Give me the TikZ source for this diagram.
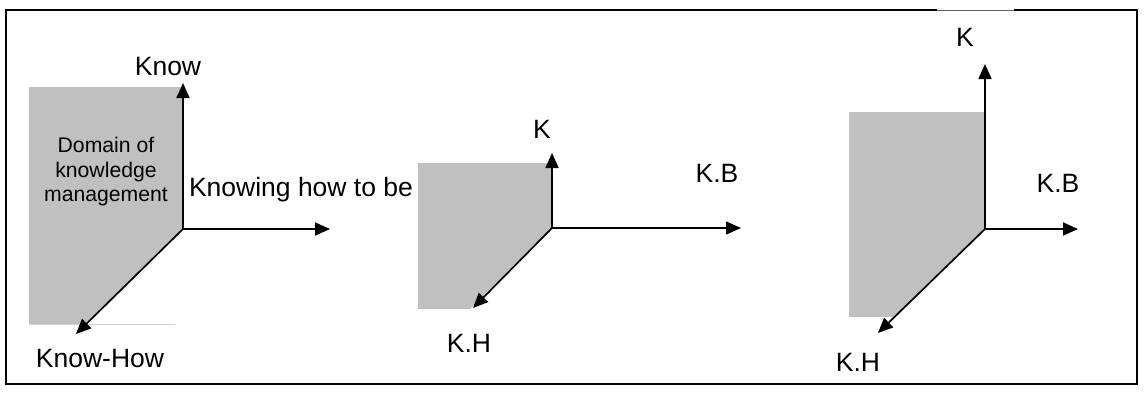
\documentclass[tikz,border=0pt]{standalone}
\usepackage{fontspec}
\setmainfont{Liberation Sans}
\usetikzlibrary{arrows.meta}
\definecolor{fillgray}{RGB}{192,192,192}
\definecolor{faint}{RGB}{210,210,210}
\begin{document}
\begin{tikzpicture}[x=1pt,y=-1pt,
  axis/.style={line width=1.7pt,-{Triangle[length=15pt,width=13pt]}},
  lab/.style={inner sep=0pt,font=\fontsize{26.5}{30}\selectfont},
  small/.style={inner sep=0pt,align=center,font=\fontsize{21.2}{24.5}\selectfont},
  region/.style={fill=fillgray,draw=none}]
\useasboundingbox (0,0) rectangle (1144,392);
% frame
\draw[line width=1.8pt] (937,10) -- (6,10) -- (6,384) -- (1137,384) -- (1137,10) -- (1014,10);
\draw[line width=0.6pt,black!60] (937,10.5) -- (1014,10.5);
% ---------- panel 1
\coordinate (o1) at (183,229);
\coordinate (u1) at (183,83);
\coordinate (r1) at (330,229);
\coordinate (d1) at (76,334);
\fill[region] (29,87) -- (183,87) -- (o1) -- (86,324) -- (29,324) -- cycle;
\draw[faint,line width=0.6pt] (29,324) -- (175,324);
\draw[axis] (o1) -- (u1);
\draw[axis] (o1) -- (r1);
\draw[axis] (o1) -- (d1);
\node[lab] (know) at (168,67) {Know};
\node[small] (dom) at (106,172) {Domain of\\knowledge\\management};
\node[lab] (kb1) at (301,190) {Knowing how to be};
\node[lab] (kh1) at (100,359) {Know-How};
% ---------- panel 2
\coordinate (o2) at (552,228);
\coordinate (u2) at (552,153);
\coordinate (r2) at (741,228);
\coordinate (d2) at (473,308);
\fill[region] (418,163) -- (552,163) -- (o2) -- (470,309) -- (418,309) -- cycle;
\draw[axis] (o2) -- (u2);
\draw[axis] (o2) -- (r2);
\draw[axis] (o2) -- (d2);
\node[lab] (k2) at (542,129) {K};
\node[lab] (kb2) at (717,173) {K.B};
\node[lab] (kh2) at (469,343) {K.H};
% ---------- panel 3
\coordinate (o3) at (985,229);
\coordinate (u3) at (985,64);
\coordinate (r3) at (1078,229);
\coordinate (d3) at (878,333);
\fill[region] (849,112) -- (985,112) -- (o3) -- (894,317) -- (849,317) -- cycle;
\draw[axis] (o3) -- (u3);
\draw[axis] (o3) -- (r3);
\draw[axis] (o3) -- (d3);
\node[lab] (k3) at (965,37) {K};
\node[lab] (kb3) at (1058,183) {K.B};
\node[lab] (kh3) at (858,362) {K.H};
\end{tikzpicture}
\end{document}
